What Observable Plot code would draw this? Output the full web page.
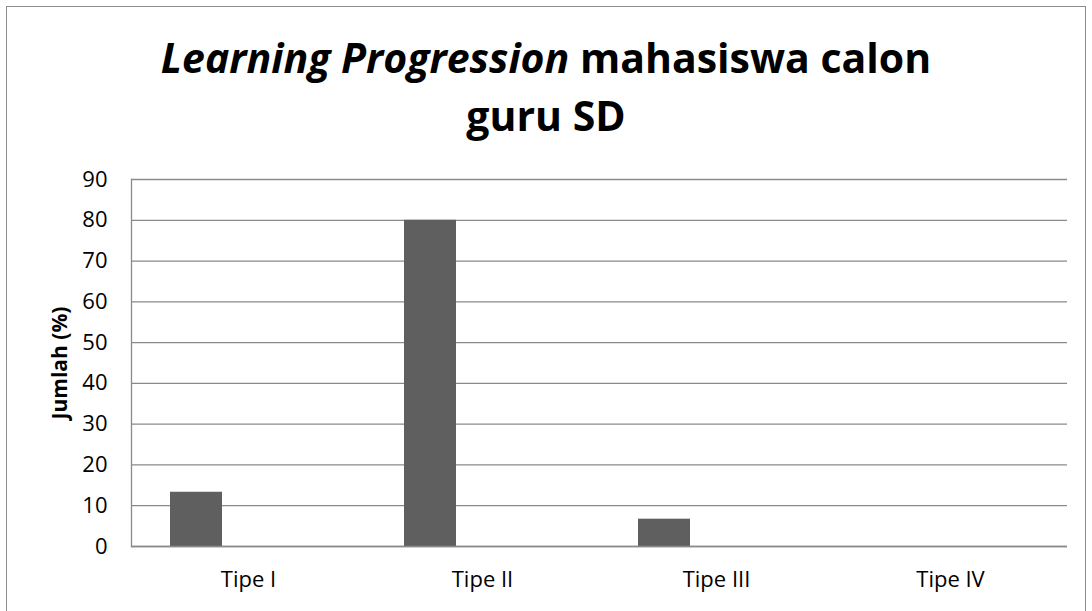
<!DOCTYPE html>
<html>
<head>
<meta charset="utf-8">
<script src="https://cdn.jsdelivr.net/npm/d3@7"></script>
<script src="https://cdn.jsdelivr.net/npm/@observablehq/plot@0.6"></script>
<style>
  html, body { margin: 0; padding: 0; background: #fff; }
  body { width: 1092px; height: 611px; overflow: hidden; position: relative; font-family: "Open Sans", Lato, sans-serif; }
  #border { position: absolute; left: 6px; top: 6px; width: 1080px; height: 640px; border: 1px solid #8c8c8c; box-sizing: border-box; pointer-events: none; }
  #title { height: 150px; box-sizing: border-box; padding-top: 28px; text-align: center; font-weight: 700; font-size: 41px; line-height: 58px; color: #000; }
  #chart svg { display: block; }
</style>
</head>
<body>
<div id="border"></div>
<div id="title"><i>Learning Progression</i> mahasiswa calon<br>guru SD</div>
<div id="chart"></div>
<script>
const categories = ["Tipe I", "Tipe II", "Tipe III", "Tipe IV"];
const series = ["Series1", "Series2", "Series3"];
const values = [13.3, 80, 6.7, 0];
const yTicks = [0, 10, 20, 30, 40, 50, 60, 70, 80, 90];
const yLabel = "Jumlah (%)";

const data = categories.map((c, i) => ({category: c, series: series[0], value: values[i]}));

const chart = Plot.plot({
  width: 1092,
  height: 461,
  marginTop: 29,
  marginBottom: 65,
  marginLeft: 131,
  marginRight: 25,
  style: {fontFamily: "'Open Sans', Lato, sans-serif", fontSize: "22px", color: "#000", background: "#fff"},
  fx: {domain: categories, padding: 0, axis: null},
  x: {domain: series, paddingInner: 0, paddingOuter: 0.75, axis: null},
  y: {domain: [0, 90], axis: null},
  marks: [
    Plot.gridY(yTicks, {stroke: "#8a8a8a", strokeOpacity: 1, strokeWidth: 1.3}),
    Plot.frame({anchor: "left", facetAnchor: "left", stroke: "#8a8a8a", strokeWidth: 1.3}),
    Plot.barY(data, {fx: "category", x: "series", y: "value", fill: "#5f5f5f"}),
    Plot.ruleY([0], {stroke: "#8a8a8a", strokeWidth: 1.5}),
    Plot.axisY(yTicks, {anchor: "left", tickSize: 0, tickPadding: 24, fontSize: 22, label: null}),
    Plot.axisFx({anchor: "bottom", tickSize: 0, tickPadding: 25, fontSize: 22, label: null}),
    Plot.text([yLabel], {frameAnchor: "left", facetAnchor: "left", dx: -71, rotate: -90, textAnchor: "middle", lineAnchor: "middle", fontWeight: "bold", fontSize: 21, text: d => d})
  ]
});
document.getElementById("chart").appendChild(chart);
</script>
</body>
</html>
